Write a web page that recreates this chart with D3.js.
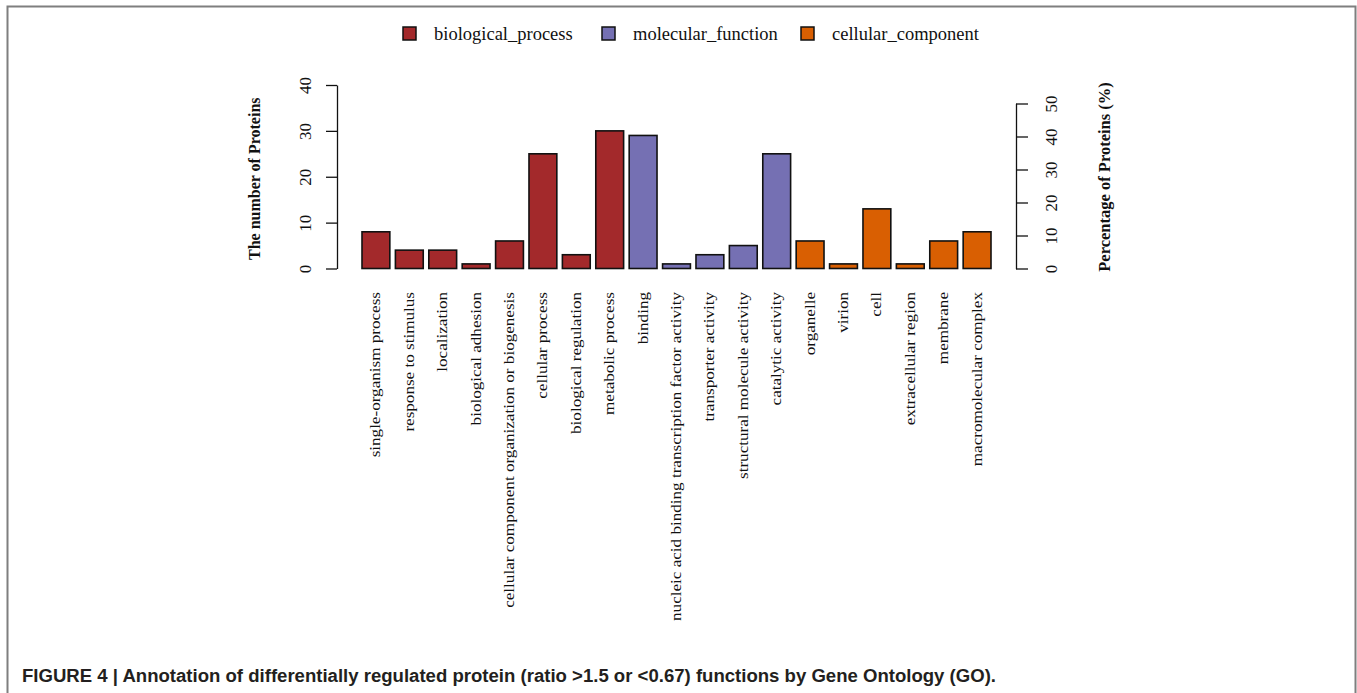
<!DOCTYPE html>
<html>
<head>
<meta charset="utf-8">
<script src="https://cdn.jsdelivr.net/npm/d3@7"></script>
<style>
  html, body { margin: 0; padding: 0; background: #fff; }
  svg { display: block; }
</style>
</head>
<body>
<svg id="chart" width="1357" height="693"></svg>
<script>
// ---- data ----
const categories = [
  "single-organism process", "response to stimulus", "localization", "biological adhesion",
  "cellular component organization or biogenesis", "cellular process", "biological regulation",
  "metabolic process", "binding", "nucleic acid binding transcription factor activity",
  "transporter activity", "structural molecule activity", "catalytic activity",
  "organelle", "virion", "cell", "extracellular region", "membrane", "macromolecular complex"
];
const counts = [8, 4, 4, 1, 6, 25, 3, 30, 29, 1, 3, 5, 25, 6, 1, 13, 1, 6, 8];
const groups = [
  "biological_process", "biological_process", "biological_process", "biological_process",
  "biological_process", "biological_process", "biological_process", "biological_process",
  "molecular_function", "molecular_function", "molecular_function", "molecular_function", "molecular_function",
  "cellular_component", "cellular_component", "cellular_component", "cellular_component",
  "cellular_component", "cellular_component"
];
const groupNames = ["biological_process", "molecular_function", "cellular_component"];
const groupColors = ["#A3292B", "#7570B3", "#D95F02"];
const leftTicks = [0, 10, 20, 30, 40];
const rightTicks = [0, 10, 20, 30, 40, 50];
const leftTitle = "The number of Proteins";
const rightTitle = "Percentage of Proteins (%)";
const caption = "FIGURE 4 | Annotation of differentially regulated protein (ratio >1.5 or <0.67) functions by Gene Ontology (GO).";

// ---- drawing ----
const svg = d3.select("#chart");
const serif = "'Liberation Serif', 'Times New Roman', serif";

// outer frame
svg.append("rect")
  .attr("x", 7.5).attr("y", 6.5).attr("width", 1348).attr("height", 720)
  .attr("fill", "none").attr("stroke", "#7f7f7f").attr("stroke-width", 2);

const color = d3.scaleOrdinal().domain(groupNames).range(groupColors);
const x = d3.scaleBand().domain(categories).range([362, 991]).paddingInner(1 / 6).paddingOuter(0);
const y = d3.scaleLinear().domain([0, 40]).range([268.5, 85]);
const yR = d3.scaleLinear().domain([0, 50]).range([268.5, 103.5]);

// bars
svg.append("g").selectAll("rect")
  .data(categories)
  .join("rect")
  .attr("x", d => x(d))
  .attr("y", (d, i) => y(counts[i]))
  .attr("width", x.bandwidth())
  .attr("height", (d, i) => y(0) - y(counts[i]))
  .attr("fill", (d, i) => color(groups[i]))
  .attr("stroke", "#111")
  .attr("stroke-width", 1.6);

// left axis
const leftAxis = svg.append("g")
  .attr("transform", "translate(337,0)")
  .call(d3.axisLeft(y).tickValues(leftTicks).tickSize(11).tickSizeOuter(0).tickFormat(d3.format("d")));
leftAxis.select(".domain").attr("stroke", "#111").attr("stroke-width", 1.3);
leftAxis.selectAll(".tick line").attr("stroke", "#111").attr("stroke-width", 1.3);
leftAxis.selectAll(".tick text")
  .attr("x", null).attr("dy", null)
  .attr("transform", "translate(-30,0) rotate(-90)")
  .attr("text-anchor", "middle")
  .attr("dominant-baseline", "middle")
  .attr("font-family", serif).attr("font-size", 17).attr("fill", "#111");

// right axis
const rightAxis = svg.append("g")
  .attr("transform", "translate(1016,0)")
  .call(d3.axisRight(yR).tickValues(rightTicks).tickSize(12).tickSizeOuter(0).tickFormat(d3.format("d")));
rightAxis.select(".domain").attr("stroke", "#111").attr("stroke-width", 1.3);
rightAxis.selectAll(".tick line").attr("stroke", "#111").attr("stroke-width", 1.3);
rightAxis.selectAll(".tick text")
  .attr("x", null).attr("dy", null)
  .attr("transform", "translate(37,0) rotate(-90)")
  .attr("text-anchor", "middle")
  .attr("dominant-baseline", "middle")
  .attr("font-family", serif).attr("font-size", 17).attr("fill", "#111");

// axis titles
svg.append("text")
  .attr("transform", `translate(256,${(y(0) + y(40)) / 2 + 2}) rotate(-90)`)
  .attr("text-anchor", "middle").attr("dominant-baseline", "middle")
  .attr("font-family", serif).attr("font-weight", "bold").attr("font-size", 16).attr("fill", "#111")
  .text(leftTitle);
svg.append("text")
  .attr("transform", `translate(1106,177) rotate(-90)`)
  .attr("text-anchor", "middle").attr("dominant-baseline", "middle")
  .attr("font-family", serif).attr("font-weight", "bold").attr("font-size", 16.5).attr("fill", "#111")
  .text(rightTitle);

// category labels
svg.append("g").selectAll("text")
  .data(categories)
  .join("text")
  .attr("transform", d => `translate(${x(d) + x.bandwidth() / 2 + 1},292) rotate(-90) scale(1.14,1)`)
  .attr("text-anchor", "end").attr("dominant-baseline", "middle")
  .attr("font-family", serif).attr("font-size", 15).attr("fill", "#111")
  .text(d => d);

// legend
const legendX = [403, 602, 801];
const lg = svg.append("g").selectAll("g")
  .data(groupNames)
  .join("g")
  .attr("transform", (d, i) => `translate(${legendX[i]},27)`);
lg.append("rect")
  .attr("width", 13).attr("height", 13)
  .attr("fill", d => color(d)).attr("stroke", "#111").attr("stroke-width", 1.5);
lg.append("text")
  .attr("x", 31).attr("y", 13)
  .attr("font-family", serif).attr("font-size", 18.5).attr("fill", "#111")
  .text(d => d);

// caption
svg.append("text")
  .attr("x", 22).attr("y", 682)
  .attr("font-family", "'Liberation Sans', Arial, sans-serif").attr("font-weight", "bold")
  .attr("font-size", 18).attr("fill", "#231f20")
  .attr("textLength", 974).attr("lengthAdjust", "spacingAndGlyphs")
  .text(caption);
</script>
</body>
</html>
